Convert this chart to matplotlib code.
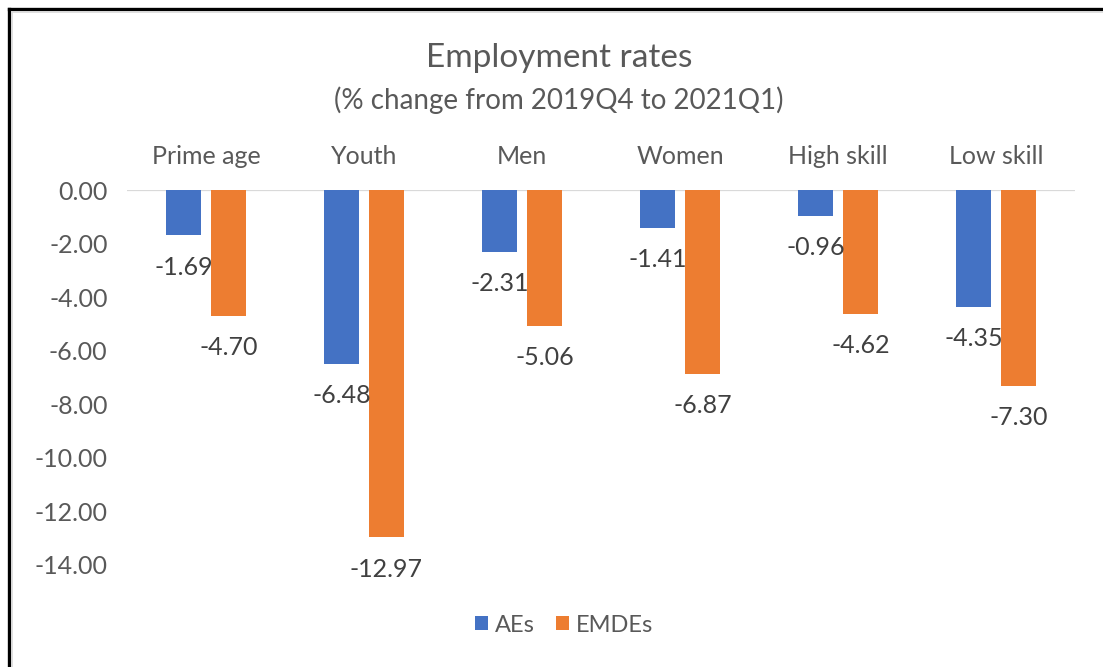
import matplotlib.pyplot as plt
from matplotlib.lines import Line2D
import numpy as np

# Data
categories = ['Prime age', 'Youth', 'Men', 'Women', 'High skill', 'Low skill']
aes = [-1.69, -6.48, -2.31, -1.41, -0.96, -4.35]
emdes = [-4.70, -12.97, -5.06, -6.87, -4.62, -7.30]
yticks = [0, -2, -4, -6, -8, -10, -12, -14]

BLUE = '#4472C4'
ORANGE = '#ED7D31'
TEXT = '#595959'

plt.rcParams['font.family'] = ['Lato', 'DejaVu Sans']

W, H = 1103, 667
fig = plt.figure(figsize=(W / 100, H / 100), dpi=100)

# axes placed in pixel terms to follow the reference layout
left, right, top, bottom = 127, 1075, 190, 565
ax = fig.add_axes([left / W, 1 - bottom / H, (right - left) / W, (bottom - top) / H])

x = np.arange(len(categories))
width = 0.222
offset = 0.142
ax.bar(x - offset, aes, width, color=BLUE, label='AEs', zorder=2)
ax.bar(x + offset, emdes, width, color=ORANGE, label='EMDEs', zorder=2)

# data labels just under the end of each bar
for xs, vals in ((x - offset, aes), (x + offset, emdes)):
    for xi, v in zip(xs, vals):
        ax.annotate(f'{v:.2f}', (xi, v), xytext=(0, -23), textcoords='offset points',
                    ha='center', va='center', fontsize=18, color='#404040')

ax.set_xlim(-0.5, len(categories) - 0.5)
ax.set_ylim(-14, 0)
ax.axhline(0, color='#D9D9D9', lw=1.6, zorder=1)

ax.set_yticks(yticks)
ax.set_yticklabels([f'{t:.2f}' for t in yticks])
ax.xaxis.tick_top()
ax.set_xticks(x)
ax.set_xticklabels(categories)
ax.tick_params(axis='both', length=0, labelsize=18, labelcolor=TEXT)
ax.tick_params(axis='y', pad=14)
ax.tick_params(axis='x', pad=16)
for s in ax.spines.values():
    s.set_visible(False)

fig.text(559 / W, 1 - 58 / H, 'Employment rates', ha='center', va='center',
         fontsize=24, color=TEXT)
fig.text(559 / W, 1 - 100 / H, '(% change from 2019Q4 to 2021Q1)', ha='center',
         va='center', fontsize=20, color=TEXT)

fig.legend(loc='center', bbox_to_anchor=(564 / W, 1 - 625 / H), ncol=2, frameon=False,
           fontsize=17, labelcolor=TEXT, handlelength=0.55, handleheight=0.55,
           handletextpad=0.3, columnspacing=0.9)

# frame lines on the left and top edges
fig.add_artist(Line2D([9 / W, 9 / W], [0, 1 - 9 / H], transform=fig.transFigure,
                      color='black', lw=2.4))
fig.add_artist(Line2D([9 / W, 1], [1 - 9 / H, 1 - 9 / H], transform=fig.transFigure,
                      color='black', lw=2.4))
fig.add_artist(Line2D([12 / W, 12 / W], [0, 1 - 12 / H], transform=fig.transFigure,
                      color='#D9D9D9', lw=1.2))
fig.add_artist(Line2D([12 / W, 1], [1 - 12 / H, 1 - 12 / H], transform=fig.transFigure,
                      color='#D9D9D9', lw=1.2))

fig.savefig('out.png', dpi=100)
